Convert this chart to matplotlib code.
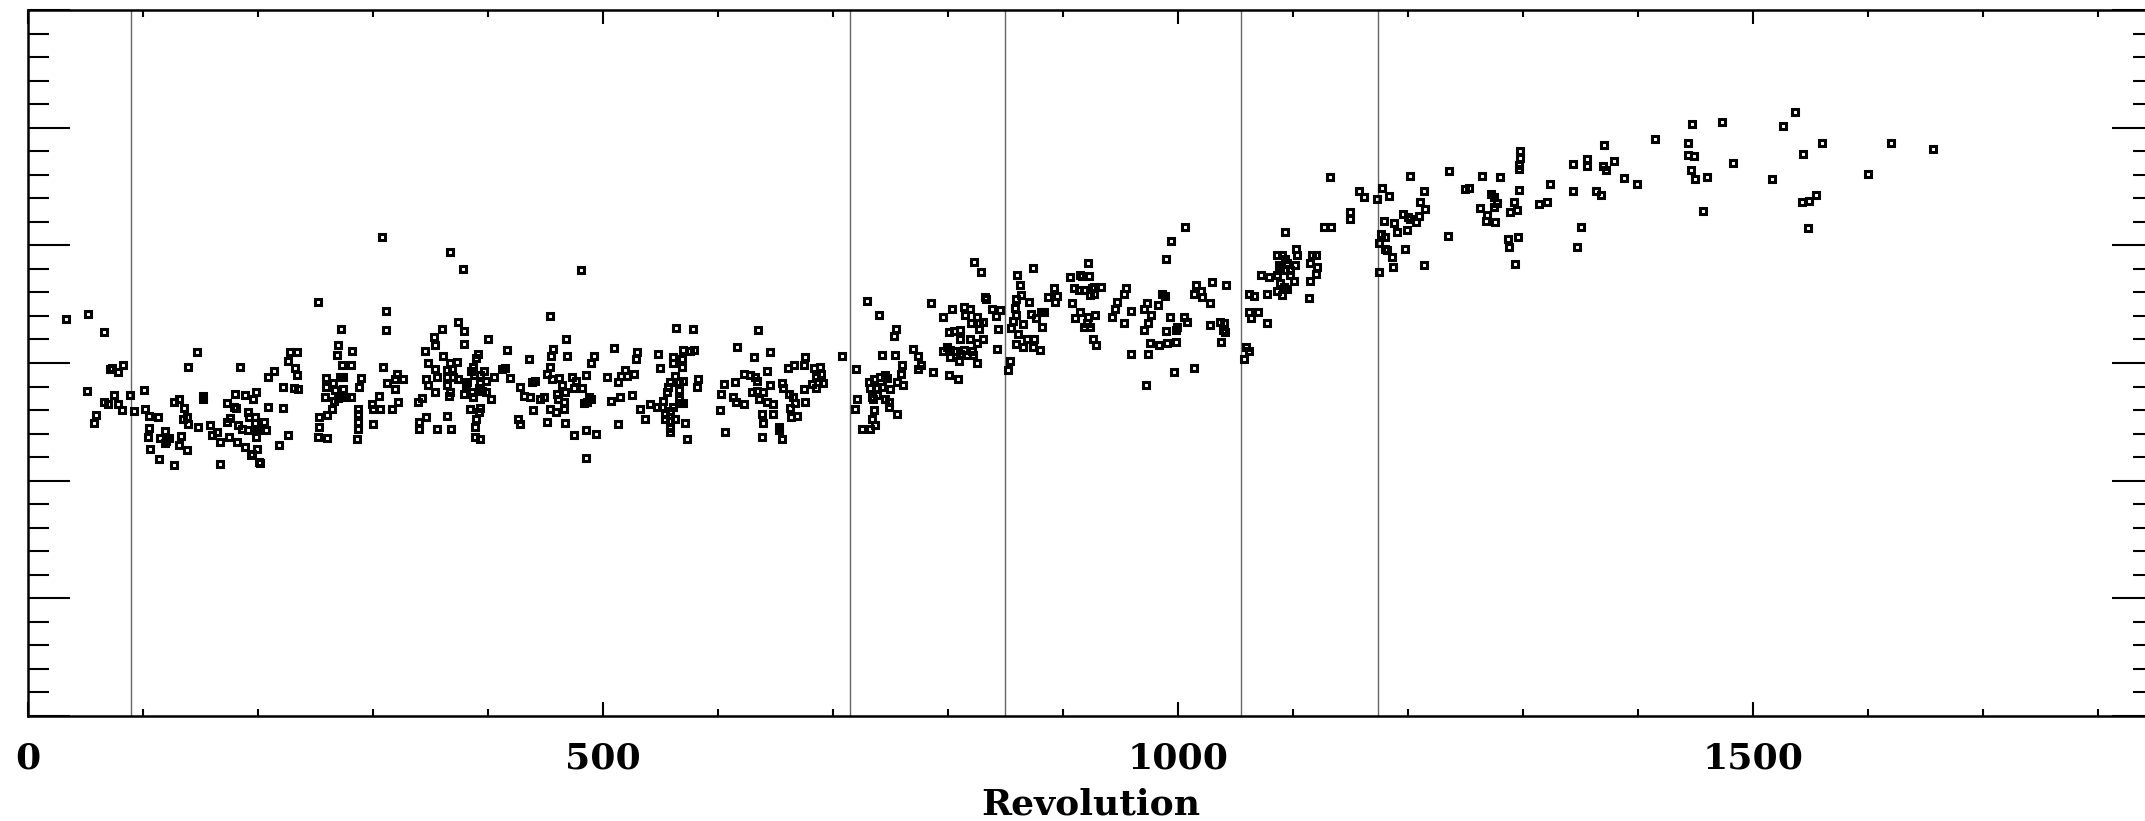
import numpy as np
import matplotlib
matplotlib.use('Agg')
import matplotlib.pyplot as plt
from matplotlib.ticker import MultipleLocator, NullFormatter

plt.rcParams['font.family'] = ['DejaVu Serif']
plt.rcParams['font.weight'] = 'bold'

# (revolution, value), grouped by revolution range
seg1 = [(33, 3.37), (52, 3.42), (66, 3.26), (71, 2.95), (73, 2.96), (78, 2.92), (83, 2.98), (51, 2.76),
        (66, 2.67), (70, 2.65), (75, 2.73), (78, 2.65), (82, 2.60), (59, 2.56), (57, 2.49), (89, 2.73),
        (92, 2.59), (101, 2.77), (102, 2.61), (105, 2.55), (113, 2.54), (105, 2.45), (104, 2.37), (106, 2.27),
        (114, 2.18), (127, 2.13), (119, 2.42), (115, 2.36), (120, 2.34), (123, 2.36), (119, 2.32), (127, 2.67),
        (131, 2.69), (136, 2.62), (135, 2.52), (138, 2.54), (139, 2.48), (133, 2.38), (131, 2.30), (138, 2.26),
        (139, 2.97), (147, 3.09), (148, 2.46), (152, 2.72), (152, 2.69), (158, 2.47), (160, 2.39), (164, 2.41),
        (167, 2.33), (167, 2.14), (173, 2.66), (176, 2.53), (173, 2.50), (179, 2.63), (181, 2.62), (180, 2.74),
        (175, 2.37), (182, 2.33), (189, 2.29), (184, 2.97), (189, 2.73), (196, 2.69), (198, 2.75), (191, 2.58),
        (192, 2.54), (197, 2.54), (183, 2.47), (186, 2.44), (191, 2.43), (197, 2.49), (199, 2.43), (205, 2.50),
        (207, 2.43), (202, 2.44), (198, 2.37), (194, 2.22), (199, 2.27), (201, 2.16), (202, 2.15), (195, 2.23),
        (209, 2.63), (209, 2.88), (214, 2.93), (222, 2.80), (222, 2.62), (218, 2.30), (226, 2.39), (228, 3.09),
        (234, 3.09), (226, 3.02), (232, 2.96), (234, 2.90), (231, 2.79), (235, 2.78), (252, 3.52), (272, 3.29),
        (270, 3.15), (269, 3.07), (282, 3.10), (273, 2.98), (281, 2.98), (259, 2.87), (259, 2.80), (265, 2.83),
        (271, 2.88), (274, 2.88), (258, 2.71), (267, 2.77), (274, 2.78), (273, 2.73), (266, 2.68), (270, 2.70),
        (277, 2.71), (281, 2.71), (290, 2.87), (288, 2.80), (264, 2.61), (260, 2.56), (253, 2.54), (253, 2.46),
        (252, 2.37), (260, 2.36), (287, 2.61), (287, 2.57), (287, 2.50), (287, 2.44), (286, 2.35), (300, 2.48),
        (299, 2.65), (300, 2.61), (306, 2.61), (305, 2.72)]

seg2 = [(308, 4.07), (367, 3.94), (378, 3.80), (481, 3.79), (311, 3.44), (311, 3.28), (309, 2.97), (312, 2.83),
        (319, 2.86), (321, 2.91), (326, 2.86), (319, 2.78), (317, 2.61), (322, 2.67), (345, 3.10), (353, 3.22),
        (360, 3.29), (354, 3.15), (348, 3.00), (354, 2.95), (361, 3.06), (367, 3.00), (373, 3.01), (364, 2.94),
        (369, 2.95), (364, 2.88), (370, 2.88), (374, 2.86), (346, 2.86), (348, 2.81), (356, 2.88), (364, 2.81),
        (354, 2.75), (367, 2.75), (366, 2.72), (343, 2.70), (339, 2.67), (346, 2.54), (340, 2.50), (340, 2.44),
        (356, 2.44), (368, 2.44), (364, 2.55), (374, 3.35), (379, 3.27), (379, 3.16), (400, 3.20), (391, 3.08),
        (390, 3.04), (387, 2.97), (385, 2.93), (388, 2.90), (397, 2.93), (393, 2.90), (398, 2.85), (405, 2.88),
        (382, 2.84), (381, 2.81), (393, 2.83), (392, 2.79), (395, 2.76), (386, 2.75), (379, 2.74), (387, 2.71),
        (398, 2.75), (403, 2.69), (384, 2.61), (393, 2.62), (392, 2.58), (390, 2.52), (389, 2.46), (389, 2.37),
        (393, 2.35), (417, 3.11), (412, 2.95), (415, 2.96), (419, 2.87), (428, 2.80), (436, 3.03), (438, 2.84),
        (441, 2.85), (431, 2.72), (437, 2.71), (445, 2.69), (449, 2.71), (439, 2.60), (426, 2.52), (428, 2.48),
        (454, 3.40), (457, 3.12), (455, 3.06), (454, 2.97), (451, 2.91), (456, 2.86), (462, 2.87), (464, 2.81),
        (467, 2.75), (460, 2.74), (461, 2.69), (466, 2.67), (454, 2.61), (459, 2.58), (466, 2.61), (451, 2.50),
        (467, 2.49), (475, 2.39), (485, 2.43), (494, 2.40), (485, 2.19), (468, 3.20), (469, 3.06), (473, 2.88),
        (477, 2.85), (475, 2.79), (482, 2.79), (485, 2.90), (492, 3.06), (490, 3.00), (488, 2.71), (490, 2.69),
        (484, 2.66), (486, 2.67), (510, 3.13), (504, 2.88), (513, 2.84), (519, 2.94), (516, 2.89), (521, 2.89),
        (527, 2.91), (507, 2.68), (515, 2.71), (525, 2.73), (513, 2.48), (529, 3.03), (530, 3.09), (532, 2.61),
        (537, 2.52), (541, 2.65), (547, 2.63), (552, 2.68), (556, 2.75), (557, 2.80), (558, 2.84), (563, 2.89),
        (566, 2.84), (570, 2.85), (548, 3.08), (550, 2.96), (561, 3.05), (561, 3.00), (569, 3.03), (569, 2.97),
        (564, 3.30), (578, 3.29), (570, 3.11), (576, 3.10), (579, 3.11), (551, 2.63), (554, 2.57), (558, 2.59),
        (561, 2.63), (567, 2.66), (570, 2.66), (566, 2.77), (566, 2.69), (554, 2.52), (558, 2.51), (563, 2.52),
        (558, 2.45), (558, 2.41), (571, 2.49), (573, 2.35), (602, 2.60), (603, 2.74), (605, 2.82), (606, 2.41),
        (583, 2.86), (582, 2.80)]

seg3 = [(635, 3.28), (617, 3.14), (631, 3.05), (645, 3.09), (615, 2.84), (623, 2.91), (628, 2.90), (632, 2.88),
        (634, 2.85), (643, 2.93), (645, 2.81), (613, 2.71), (616, 2.67), (623, 2.65), (630, 2.75), (634, 2.76),
        (639, 2.75), (636, 2.69), (643, 2.67), (648, 2.65), (638, 2.57), (648, 2.57), (639, 2.49), (638, 2.37),
        (653, 2.46), (653, 2.43), (656, 2.35), (656, 2.83), (657, 2.79), (662, 2.74), (665, 2.71), (667, 2.66),
        (663, 2.62), (664, 2.54), (669, 2.55), (661, 2.96), (666, 2.98), (675, 2.98), (676, 3.05), (675, 2.78),
        (676, 2.67), (684, 2.96), (689, 2.97), (690, 2.91), (685, 2.88), (682, 2.82), (685, 2.79), (691, 2.83),
        (687, 2.84), (708, 3.06), (730, 3.53), (740, 3.41), (755, 3.29), (753, 3.23), (743, 3.07), (754, 3.07),
        (720, 2.95), (721, 2.69), (719, 2.61), (731, 2.84), (736, 2.86), (741, 2.88), (745, 2.90), (747, 2.87),
        (732, 2.79), (738, 2.79), (743, 2.80), (750, 2.78), (734, 2.71), (738, 2.73), (735, 2.69), (745, 2.69),
        (749, 2.67), (749, 2.63), (760, 2.98), (759, 2.91), (756, 2.84), (761, 2.81), (736, 2.60), (734, 2.52),
        (737, 2.47), (725, 2.44), (732, 2.44), (756, 2.57), (770, 3.12), (774, 3.06), (774, 2.95), (777, 2.98),
        (787, 2.92), (785, 3.51), (801, 2.90), (809, 2.86), (796, 3.39), (804, 3.46), (814, 3.48), (819, 3.46),
        (815, 3.41), (825, 3.39), (820, 3.34), (827, 3.34), (831, 3.35), (827, 3.29), (801, 3.26), (805, 3.27),
        (811, 3.28), (811, 3.20), (819, 3.20), (825, 3.17), (831, 3.20), (799, 3.14), (796, 3.10), (802, 3.11),
        (802, 3.05), (807, 3.10), (811, 3.08), (810, 3.02), (817, 3.07), (822, 3.07), (821, 3.10), (825, 3.00),
        (814, 3.11), (823, 3.86), (829, 3.77), (832, 3.56), (833, 3.54), (838, 3.46), (845, 3.45), (842, 3.40),
        (844, 3.29), (843, 3.12), (860, 3.75), (874, 3.81), (863, 3.66), (864, 3.58), (859, 3.54), (858, 3.47),
        (859, 3.41), (857, 3.36), (855, 3.30), (861, 3.25), (865, 3.33), (871, 3.52), (872, 3.42), (877, 3.38),
        (881, 3.43), (884, 3.43), (882, 3.31), (887, 3.56), (892, 3.64), (895, 3.57), (893, 3.52), (859, 3.16),
        (865, 3.14), (869, 3.20), (875, 3.20), (874, 3.14), (880, 3.11), (854, 3.02), (852, 2.94), (906, 3.73),
        (915, 3.75), (910, 3.64), (914, 3.62), (908, 3.51), (915, 3.43), (911, 3.38)]

seg4 = [(922, 3.85), (917, 3.74), (923, 3.74), (918, 3.62), (925, 3.64), (927, 3.65), (933, 3.65), (924, 3.58),
        (927, 3.59), (928, 3.41), (922, 3.39), (921, 3.34), (918, 3.31), (924, 3.31), (926, 3.20), (929, 3.15),
        (955, 3.64), (953, 3.59), (947, 3.52), (945, 3.46), (943, 3.39), (953, 3.34), (959, 3.44), (973, 3.51),
        (971, 3.46), (977, 3.41), (974, 3.34), (971, 3.28), (983, 3.49), (986, 3.59), (989, 3.57), (990, 3.27),
        (993, 3.39), (999, 3.31), (998, 3.28), (1005, 3.39), (1008, 3.35), (976, 3.17), (984, 3.15), (991, 3.17),
        (998, 3.18), (959, 3.08), (974, 3.08), (972, 2.81), (997, 2.92), (1014, 2.96), (990, 3.88), (994, 4.04),
        (1006, 4.16), (1016, 3.66), (1014, 3.59), (1020, 3.61), (1021, 3.56), (1030, 3.69), (1042, 3.66),
        (1028, 3.51), (1028, 3.32), (1037, 3.35), (1040, 3.34), (1039, 3.28), (1041, 3.26), (1038, 3.18),
        (1059, 3.14), (1062, 3.10), (1058, 3.03), (1062, 3.59), (1066, 3.57), (1062, 3.43), (1064, 3.38),
        (1070, 3.43), (1078, 3.34), (1078, 3.59), (1072, 3.75), (1079, 3.73), (1086, 3.75), (1088, 3.79),
        (1088, 3.83), (1086, 3.92), (1091, 3.92), (1093, 3.88), (1089, 3.82), (1095, 3.85), (1093, 3.79),
        (1098, 3.79), (1102, 3.83), (1098, 3.75), (1101, 3.70), (1089, 3.68), (1092, 3.65), (1095, 3.63),
        (1086, 3.61), (1091, 3.58), (1103, 3.97), (1104, 3.92), (1093, 4.11), (1115, 3.85), (1117, 3.92),
        (1120, 3.92), (1121, 3.82), (1120, 3.76), (1115, 3.70), (1114, 3.55), (1127, 4.16), (1133, 4.16),
        (1132, 4.58), (1150, 4.28), (1150, 4.22), (1158, 4.46), (1162, 4.41), (1173, 4.39), (1178, 4.49),
        (1184, 4.42), (1202, 4.59), (1214, 4.46), (1211, 4.37), (1215, 4.31), (1179, 4.21), (1188, 4.19),
        (1196, 4.27), (1200, 4.24), (1202, 4.22), (1207, 4.20), (1210, 4.25), (1191, 4.11), (1199, 4.13),
        (1177, 4.10), (1180, 4.07), (1175, 4.02), (1180, 3.97), (1182, 3.96), (1186, 3.90), (1187, 3.82),
        (1198, 3.97), (1214, 3.83), (1175, 3.77)]

seg5 = [(1236, 4.63), (1235, 4.08), (1250, 4.48), (1253, 4.49), (1265, 4.59), (1280, 4.58), (1272, 4.44),
        (1275, 4.41), (1278, 4.36), (1275, 4.33), (1263, 4.32), (1269, 4.26), (1268, 4.21), (1276, 4.20),
        (1292, 4.37), (1289, 4.28), (1295, 4.30), (1297, 4.47), (1298, 4.80), (1298, 4.74), (1297, 4.68),
        (1297, 4.65), (1287, 4.05), (1288, 3.99), (1296, 4.07), (1293, 3.84), (1314, 4.35), (1321, 4.37),
        (1324, 4.52), (1344, 4.69), (1356, 4.73), (1356, 4.67), (1344, 4.46), (1364, 4.46), (1368, 4.43),
        (1370, 4.67), (1372, 4.64), (1379, 4.72), (1371, 4.85), (1388, 4.57), (1399, 4.52), (1351, 4.16),
        (1347, 3.99), (1415, 4.90), (1447, 5.03), (1473, 5.05), (1444, 4.87), (1444, 4.77), (1449, 4.76),
        (1446, 4.64), (1450, 4.56), (1460, 4.58), (1457, 4.29), (1483, 4.70), (1517, 4.56)]

seg6 = [(1537, 5.13), (1526, 5.01), (1560, 4.87), (1544, 4.78), (1620, 4.87), (1657, 4.82), (1600, 4.61),
        (1543, 4.37), (1549, 4.38), (1555, 4.43), (1548, 4.15)]

# revolutions marked by vertical lines
markers_rev = [90, 715, 850, 1055, 1174]

xticks = [0, 500, 1000, 1500]

pts = np.array(seg1 + seg2 + seg3 + seg4 + seg5 + seg6)

fig = plt.figure(figsize=(21.45, 8.21), dpi=100)
# right edge runs just past the image, as in the original
ax = fig.add_axes([0.01305, 0.12789, 0.99114, 0.85993])

for r in markers_rev:
    ax.axvline(r, color='0.4', lw=1.0, zorder=1)

ax.plot(pts[:, 0], pts[:, 1], 's', ls='none', ms=4.3, mfc='none', mec='black', mew=2.2, zorder=3)

ax.set_xlim(0, 1849)
ax.set_ylim(0, 6)
ax.set_xticks(xticks)
ax.set_xticklabels([str(t) for t in xticks])
ax.xaxis.set_minor_locator(MultipleLocator(100))
ax.yaxis.set_major_locator(MultipleLocator(1))
ax.yaxis.set_minor_locator(MultipleLocator(0.2))
ax.yaxis.set_major_formatter(NullFormatter())

ax.tick_params(axis='both', which='both', direction='in', top=True, right=True, width=1.5, color='black')
ax.tick_params(axis='x', which='major', length=10, pad=18, labelsize=26)
ax.tick_params(axis='x', which='minor', length=5)
ax.tick_params(axis='y', which='major', length=30)
ax.tick_params(axis='y', which='minor', length=15)
for s in ax.spines.values():
    s.set_linewidth(1.8)

ax.set_xlabel('Revolution', fontsize=26, fontweight='bold', labelpad=9)

fig.savefig('out.png', dpi=100)
